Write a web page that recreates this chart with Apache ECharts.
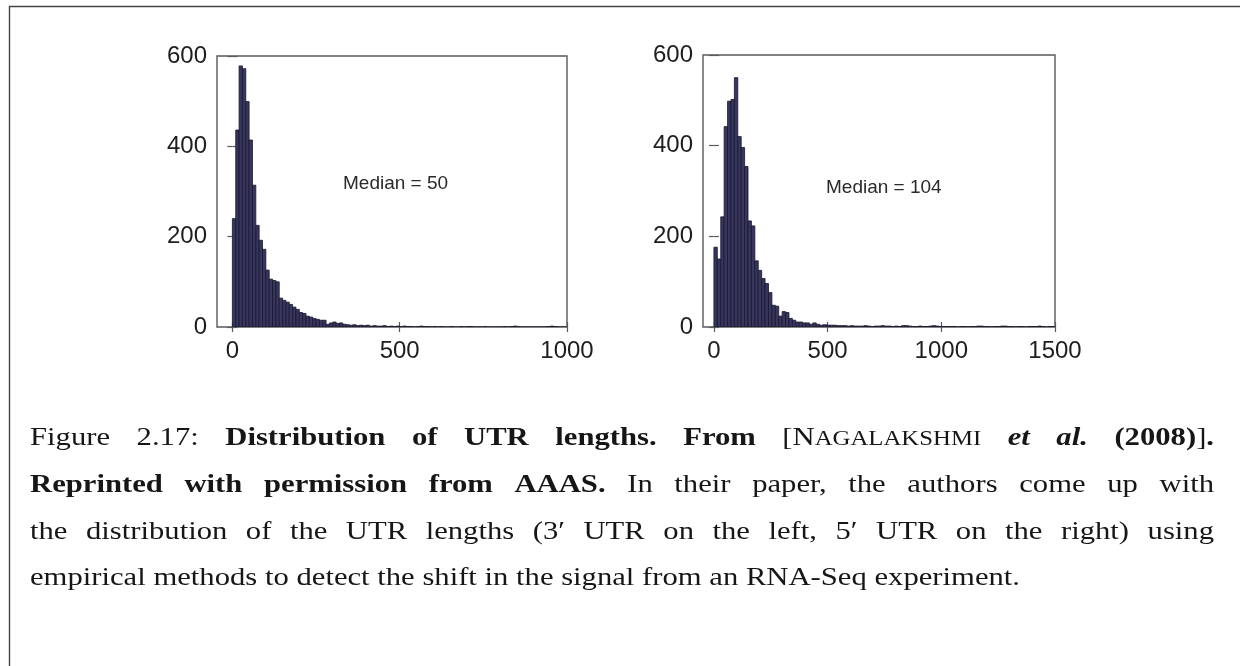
<!DOCTYPE html>
<html><head><meta charset="utf-8">
<script src="https://cdn.jsdelivr.net/npm/echarts@6/dist/echarts.min.js"></script>
<style>html,body{margin:0;padding:0;background:#fff;}#c{width:1240px;height:666px;}</style>
</head><body><div id="c"></div>
<script>
// ---- data ----
const leftBinWidth = 10;   // 3' UTR length bins (nt)
const leftCounts = [
 240,436,578,572,499,414,314,225,192,172,
 126,106,103,100,64,59,55,50,44,39,
 32,30,24,22,19,17,15,15,6,9,
 11,8,9,6,5,4,5,3,4,3,
 4,2,3,2,2,3,1,2,1,2,
 1,2,1,1,0,1,2,1,1,0,
 1,0,1,0,0,1,0,0,1,0,
 1,1,0,0,0,1,0,0,0,0,
 0,1,0,1,2,1,0,0,0,0,
 0,0,0,0,1,2,1,0,0,0];
const rightBinWidth = 15;  // 5' UTR length bins (nt)
const rightCounts = [
 176,150,243,442,498,502,550,420,396,354,
 234,223,146,125,107,96,76,48,46,24,
 34,32,19,15,11,11,9,9,6,9,
 6,4,5,4,4,4,3,3,3,2,
 3,2,2,2,3,2,1,2,2,3,
 2,2,1,2,1,3,3,2,1,1,
 2,1,1,2,3,2,1,1,1,1,
 1,0,1,1,0,1,1,2,2,1,
 1,0,1,1,2,2,1,1,0,1,
 1,0,1,1,1,2,1,0,1,1];
const leftXTicks = [0, 500, 1000];
const rightXTicks = [0, 500, 1000, 1500];
const yTicks = [0, 200, 400, 600];
const leftMedianText = 'Median = 50';
const rightMedianText = 'Median = 104';
const captionLines = [
 [[['Figure','n']],[['2.17:','n']],[['Distribution','b']],[['of','b']],[['UTR','b']],[['lengths.','b']],[['From','b']],[['[N','n'],['AGALAKSHMI','sc']],[['et','bi']],[['al.','bi']],[['(2008)','b'],[']','n'],['.','b']]],
 [[['Reprinted','b']],[['with','b']],[['permission','b']],[['from','b']],[['AAAS.','b']],[['In','n']],[['their','n']],[['paper,','n']],[['the','n']],[['authors','n']],[['come','n']],[['up','n']],[['with','n']]],
 'the distribution of the UTR lengths (3\u2032 UTR on the left, 5\u2032 UTR on the right) using',
 'empirical methods to detect the shift in the signal from an RNA-Seq experiment.'
];

// ---- chart ----
const chart = echarts.init(document.getElementById('c'), null, {renderer: 'canvas'});
const frameColor = '#5a5a5a';
const labelFont = {fontFamily: 'Liberation Sans, Arial, sans-serif', fontSize: 24, color: '#1e1e1e'};

function toBins(counts, w) { return counts.map((c, i) => [i * w, (i + 1) * w, c]); }

function xAx(grid, min, max, ticks, pos, labels) {
  return {type: 'value', gridIndex: grid, min: min, max: max, position: pos,
    axisLine: {show: false}, splitLine: {show: false},
    axisTick: {show: true, inside: true, length: 5, customValues: ticks, lineStyle: {color: frameColor, width: 1.2}},
    axisLabel: Object.assign({show: labels, customValues: ticks, margin: 12, formatter: v => String(v)}, labelFont)};
}
function yAx(grid, pos, labels) {
  return {type: 'value', gridIndex: grid, min: 0, max: 600, interval: 200, position: pos,
    axisLine: {show: false}, splitLine: {show: false},
    axisTick: {show: true, inside: true, length: 5, customValues: yTicks, lineStyle: {color: frameColor, width: 1.2}},
    axisLabel: Object.assign({show: labels, margin: 10, customValues: yTicks, formatter: v => String(v)}, labelFont)};
}
function renderBar(params, api) {
  const p0 = api.coord([api.value(0), 0]);
  const p1 = api.coord([api.value(1), api.value(2)]);
  return {type: 'rect', shape: {x: p0[0], y: p1[1], width: p1[0] - p0[0], height: p0[1] - p1[1]},
    style: {fill: '#38355f', stroke: '#17162b', lineWidth: 0.8}};
}

// caption layout (justified, measured with the canvas; glyphs widened to mimic Computer Modern)
const mctx = document.createElement('canvas').getContext('2d');
const capSize = 26;
const fonts = {
  n: 'normal normal ' + capSize + 'px "Liberation Serif"',
  b: 'normal bold ' + capSize + 'px "Liberation Serif"',
  bi: 'italic bold ' + capSize + 'px "Liberation Serif"',
  sc: 'normal normal ' + Math.round(capSize * 0.8) + 'px "Liberation Serif"'
};
function segW(s) { mctx.font = fonts[s[1]]; return mctx.measureText(s[0]).width; }
const capLeft = 30, capRight = 1214, capY = [438, 485, 532, 578], lastLineRight = 1020;
const lastWords = captionLines[captionLines.length - 1].split(' ');
mctx.font = fonts.n;
const spaceW = mctx.measureText(' ').width;
const lastNatural = lastWords.reduce((a, w) => a + segW([w, 'n']), 0) + spaceW * (lastWords.length - 1);
const sx = (lastLineRight - capLeft) / lastNatural;

const graphics = [];
captionLines.forEach((line, li) => {
  const words = typeof line === 'string' ? line.split(' ').map(w => [[w, 'n']]) : line;
  const widths = words.map(w => w.reduce((a, s) => a + segW(s) * sx, 0));
  const total = widths.reduce((a, b) => a + b, 0);
  const justify = li < captionLines.length - 1;
  const gap = justify ? (capRight - capLeft - total) / (words.length - 1) : spaceW * sx;
  let x = capLeft;
  words.forEach((w, wi) => {
    let px = x;
    w.forEach(s => {
      const dy = s[1] === 'sc' ? (capSize - Math.round(capSize * 0.8)) * 0.36 : 0;
      graphics.push({type: 'text', x: px, y: capY[li] + dy, scaleX: sx,
        style: {text: s[0], font: fonts[s[1]], fill: '#161616', align: 'left', verticalAlign: 'middle'}});
      px += segW(s) * sx;
    });
    x += widths[wi] + gap;
  });
});
// outer frame of the figure
graphics.push({type: 'rect', shape: {x: 9.5, y: 6.5, width: 1240, height: 700},
  style: {fill: 'none', stroke: '#444', lineWidth: 1.4}, z: -1});
graphics.push({type: 'text', x: 343, y: 184, style: {text: leftMedianText, font: '19px "Liberation Sans"', fill: '#2a2a2a', verticalAlign: 'middle'}});
graphics.push({type: 'text', x: 826, y: 188, style: {text: rightMedianText, font: '19px "Liberation Sans"', fill: '#2a2a2a', verticalAlign: 'middle'}});

chart.setOption({
  animation: false,
  backgroundColor: '#fff',
  grid: [
    {left: 217, top: 56, width: 350, height: 271, show: true, borderColor: frameColor, borderWidth: 1.4, backgroundColor: 'transparent'},
    {left: 703, top: 55, width: 352, height: 272, show: true, borderColor: frameColor, borderWidth: 1.4, backgroundColor: 'transparent'}
  ],
  xAxis: [
    xAx(0, -46, 1000, leftXTicks, 'bottom', true),
    xAx(0, -46, 1000, leftXTicks, 'top', false),
    xAx(1, -48, 1500, rightXTicks, 'bottom', true),
    xAx(1, -48, 1500, rightXTicks, 'top', false)
  ],
  yAxis: [
    yAx(0, 'left', true), yAx(0, 'right', false),
    yAx(1, 'left', true), yAx(1, 'right', false)
  ],
  series: [
    {type: 'custom', name: "3' UTR", xAxisIndex: 0, yAxisIndex: 0, data: toBins(leftCounts, leftBinWidth),
      encode: {x: [0, 1], y: 2}, renderItem: renderBar, clip: true},
    {type: 'custom', name: "5' UTR", xAxisIndex: 2, yAxisIndex: 2, data: toBins(rightCounts, rightBinWidth),
      encode: {x: [0, 1], y: 2}, renderItem: renderBar, clip: true}
  ],
  graphic: graphics
});
</script></body></html>
